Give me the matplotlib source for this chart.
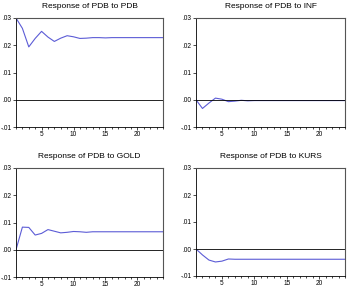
import matplotlib
matplotlib.use("Agg")
import matplotlib.pyplot as plt
from matplotlib.ticker import FixedLocator, MultipleLocator

plt.rcParams['font.family'] = ['Liberation Sans', 'DejaVu Sans']

periods = list(range(1, 25))

# impulse responses
resp_pdb = [0.0300, 0.0262, 0.0194, 0.0225, 0.0251, 0.0230, 0.0214, 0.0226, 0.0235, 0.0231,
            0.0225, 0.0226, 0.0228, 0.0228, 0.0227, 0.0228, 0.0228, 0.0228, 0.0228, 0.0228,
            0.0228, 0.0228, 0.0228, 0.0228]
resp_inf = [0.0000, -0.0032, -0.0012, 0.0006, 0.0002, -0.0007, -0.0005, -0.0002, -0.0004, -0.0003,
            -0.0003, -0.0003, -0.0003, -0.0003, -0.0003, -0.0003, -0.0003, -0.0003, -0.0003, -0.0003,
            -0.0003, -0.0003, -0.0003, -0.0003]
resp_gold = [0.0000, 0.0083, 0.0082, 0.0054, 0.0060, 0.0074, 0.0068, 0.0062, 0.0064, 0.0067,
             0.0066, 0.0064, 0.0066, 0.0066, 0.0066, 0.0066, 0.0066, 0.0066, 0.0066, 0.0066,
             0.0066, 0.0066, 0.0066, 0.0066]
resp_kurs = [0.0000, -0.0022, -0.0041, -0.0048, -0.0045, -0.0037, -0.0038, -0.0038, -0.0038, -0.0038,
             -0.0038, -0.0038, -0.0038, -0.0038, -0.0038, -0.0038, -0.0038, -0.0038, -0.0038, -0.0038,
             -0.0038, -0.0038, -0.0038, -0.0038]

titles = ["Response of PDB to PDB", "Response of PDB to INF",
          "Response of PDB to GOLD", "Response of PDB to KURS"]
series = [resp_pdb, resp_inf, resp_gold, resp_kurs]
yticks = [-0.01, 0.00, 0.01, 0.02, 0.03]
ylabels = ["-.01", ".00", ".01", ".02", ".03"]

fig = plt.figure(figsize=(3.49, 2.91), dpi=100)
# [left, bottom, width, height] in figure fractions
boxes = [
    [16 / 349, 1 - 127 / 291, 147 / 349, 109 / 291],
    [196 / 349, 1 - 127 / 291, 149 / 349, 109 / 291],
    [16 / 349, 1 - 277 / 291, 147 / 349, 109 / 291],
    [196 / 349, 1 - 276 / 291, 149 / 349, 108 / 291],
]

for box, title, vals in zip(boxes, titles, series):
    ax = fig.add_axes(box)
    ax.plot(periods, vals, color='#5c5cd6', lw=0.8)
    ax.axhline(0, color='black', lw=0.6)
    ax.set_xlim(1, 24)
    ax.set_ylim(-0.01, 0.03)
    ax.set_yticks(yticks)
    ax.set_yticklabels(ylabels)
    ax.xaxis.set_major_locator(FixedLocator([5, 10, 15, 20]))
    ax.xaxis.set_minor_locator(MultipleLocator(1))
    ax.tick_params(axis='both', which='both', labelsize=4.7, direction='out',
                   width=0.5, pad=1)
    ax.tick_params(axis='both', which='major', length=2)
    ax.tick_params(axis='x', which='minor', length=1.5)
    ax.tick_params(axis='y', which='minor', left=False)
    for side in ['left', 'bottom']:
        ax.spines[side].set_linewidth(0.6)
    for side in ['top', 'right']:
        ax.spines[side].set_linewidth(0.8)
        ax.spines[side].set_color('#555555')
    ax.set_title(title, fontsize=6, pad=7)

fig.savefig("out.png", dpi=100)
